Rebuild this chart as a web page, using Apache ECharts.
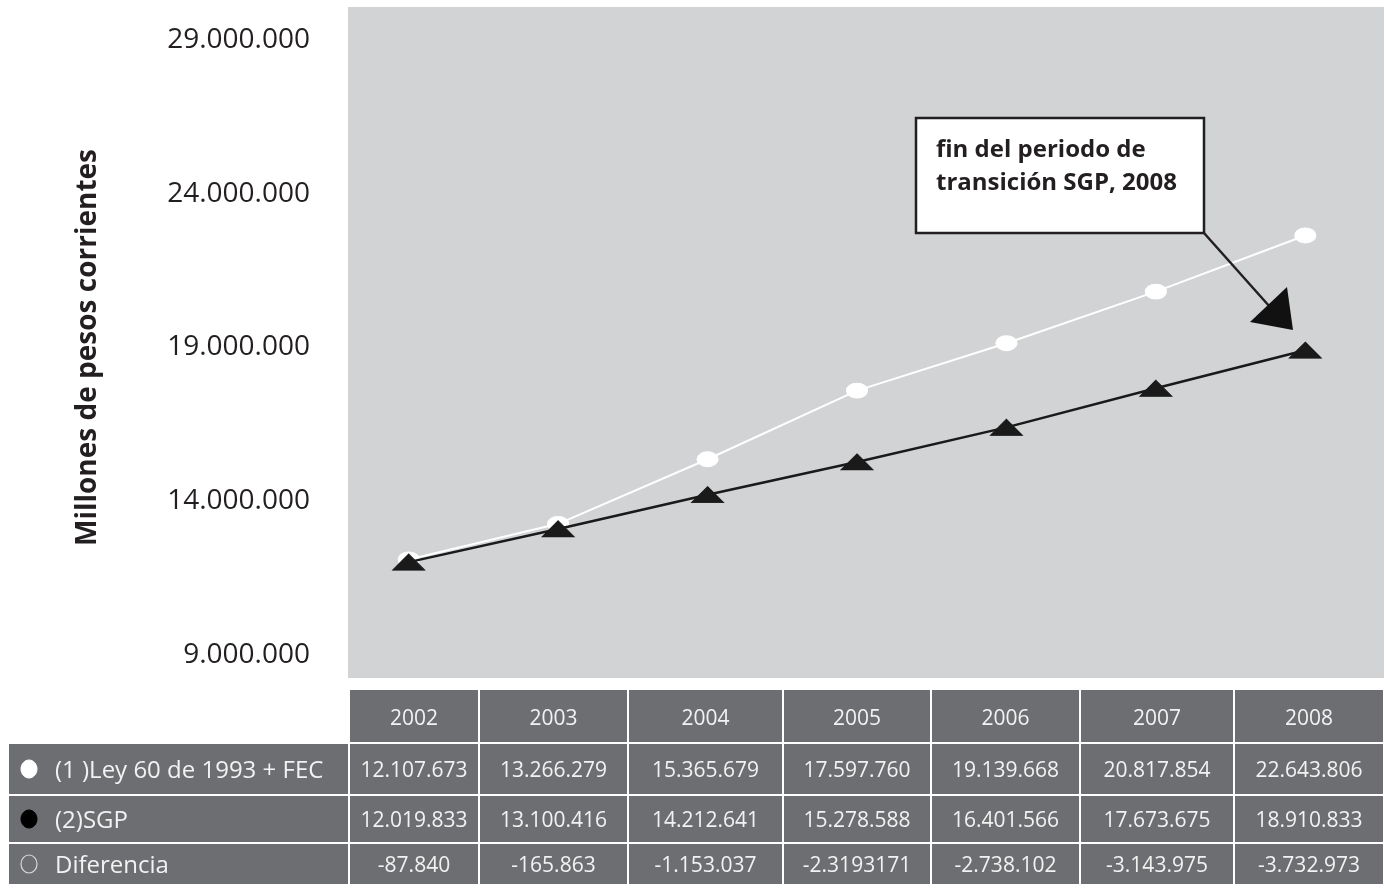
<!DOCTYPE html>
<html>
<head>
<meta charset="utf-8">
<script src="https://cdn.jsdelivr.net/npm/echarts@6/dist/echarts.min.js"></script>
<style>
html,body{margin:0;padding:0;background:#fff;}
#c{width:1384px;height:885px;}
</style>
</head>
<body>
<div id="c"></div>
<script>
// ---- data ----
const years = ['2002', '2003', '2004', '2005', '2006', '2007', '2008'];
const ley60 = [12107673, 13266279, 15365679, 17597760, 19139668, 20817854, 22643806];
const sgp = [12019833, 13100416, 14212641, 15278588, 16401566, 17673675, 18910833];
const diferenciaLabels = ['-87.840', '-165.863', '-1.153.037', '-2.3193171', '-2.738.102', '-3.143.975', '-3.732.973'];
const seriesNames = ['(1 )Ley 60 de 1993 + FEC', '(2)SGP', 'Diferencia'];
const yTicks = [9000000, 14000000, 19000000, 24000000, 29000000];
const yAxisName = 'Millones de pesos corrientes';
const annotationLines = ['fin del periodo de', 'transición SGP, 2008'];

function fmt(n) {
  const s = Math.abs(Math.round(n)).toString().replace(/\B(?=(\d{3})+(?!\d))/g, '.');
  return (n < 0 ? '-' : '') + s;
}

const FONT = '"Open Sans", "Noto Sans", sans-serif';
const CELL = '#6d6e71';
const TXT = '#f2f2f2';

// table layout
const colEdges = [349, 479, 628, 783, 931, 1080, 1234, 1384];
const rowEdges = [689, 743, 795, 843, 885];
const labelLeft = 8;

const graphics = [];
// plot background
graphics.push({ type: 'rect', z: -10, shape: { x: 348, y: 7, width: 1036, height: 671 }, style: { fill: '#d1d3d4' } });

// header row cells
for (let i = 0; i < years.length; i++) {
  const x0 = colEdges[i], x1 = colEdges[i + 1];
  graphics.push({ type: 'rect', shape: { x: x0, y: rowEdges[0], width: x1 - x0, height: rowEdges[1] - rowEdges[0] },
    style: { fill: CELL, stroke: '#ffffff', lineWidth: 2 } });
  graphics.push({ type: 'text', x: (x0 + x1) / 2, y: (rowEdges[0] + rowEdges[1]) / 2 + 3,
    style: { text: years[i], fill: TXT, font: '21px ' + FONT, textAlign: 'center', textVerticalAlign: 'middle' } });
}
// data rows
const rowsText = [ley60.map(fmt), sgp.map(fmt), diferenciaLabels];
for (let r = 0; r < 3; r++) {
  const y0 = rowEdges[r + 1], y1 = rowEdges[r + 2];
  const yc = (y0 + y1) / 2 + 2;
  graphics.push({ type: 'rect', shape: { x: labelLeft, y: y0, width: colEdges[0] - labelLeft, height: y1 - y0 },
    style: { fill: CELL, stroke: '#ffffff', lineWidth: 2 } });
  // legend marker
  const markerStyle = r === 0 ? { fill: '#ffffff', stroke: '#ffffff', lineWidth: 1 }
    : r === 1 ? { fill: '#000000', stroke: '#000000', lineWidth: 1 }
    : { fill: 'none', stroke: '#d8d8d8', lineWidth: 1.2 };
  graphics.push({ type: 'ellipse', shape: { cx: 29, cy: yc - 2, rx: 8, ry: 9 }, style: markerStyle });
  graphics.push({ type: 'text', x: 55, y: yc,
    style: { text: seriesNames[r], fill: TXT, font: '24px ' + FONT, textAlign: 'left', textVerticalAlign: 'middle' } });
  for (let i = 0; i < years.length; i++) {
    const x0 = colEdges[i], x1 = colEdges[i + 1];
    graphics.push({ type: 'rect', shape: { x: x0, y: y0, width: x1 - x0, height: y1 - y0 },
      style: { fill: CELL, stroke: '#ffffff', lineWidth: 2 } });
    graphics.push({ type: 'text', x: (x0 + x1) / 2, y: yc,
      style: { text: rowsText[r][i], fill: TXT, font: '21px ' + FONT, textAlign: 'center', textVerticalAlign: 'middle' } });
  }
}

// annotation box + arrow
graphics.push({ type: 'rect', z: 100, shape: { x: 916, y: 118, width: 288, height: 115 },
  style: { fill: '#ffffff', stroke: '#231f20', lineWidth: 2.5 } });
graphics.push({ type: 'text', z: 101, x: 936, y: 134,
  style: { text: annotationLines.join('\n'), fill: '#231f20', font: 'bold 24px ' + FONT, lineHeight: 33, textAlign: 'left', textVerticalAlign: 'top' } });
graphics.push({ type: 'line', z: 100, shape: { x1: 1204, y1: 233, x2: 1270, y2: 307 },
  style: { stroke: '#231f20', lineWidth: 2.5 } });
graphics.push({ type: 'polygon', z: 100, shape: { points: [[1293, 330], [1250, 322], [1287, 287]] },
  style: { fill: '#111111' } });

const chart = echarts.init(document.getElementById('c'), null, { renderer: 'canvas' });
chart.setOption({
  animation: false,
  backgroundColor: '#ffffff',
  grid: { left: 334, right: 4, top: 40, bottom: 885 - 655, containLabel: false },
  xAxis: {
    type: 'category', data: years, boundaryGap: true,
    axisLine: { show: false }, axisTick: { show: false }, axisLabel: { show: false }, splitLine: { show: false }
  },
  yAxis: {
    type: 'value', min: yTicks[0], max: yTicks[yTicks.length - 1], interval: yTicks[1] - yTicks[0],
    axisLine: { show: false }, axisTick: { show: false }, splitLine: { show: false },
    axisLabel: { formatter: v => fmt(v), color: '#231f20', fontSize: 28, fontFamily: FONT, margin: 24 },
    name: yAxisName, nameLocation: 'middle', nameGap: 232, nameRotate: 90,
    nameTextStyle: { color: '#231f20', fontSize: 28, fontWeight: 'bold', fontFamily: FONT }
  },
  graphic: { elements: graphics },
  series: [
    {
      name: seriesNames[0], type: 'line', data: ley60, z: 3,
      symbol: 'circle', symbolSize: [21, 15], showSymbol: true,
      lineStyle: { color: '#ffffff', width: 2 },
      itemStyle: { color: '#ffffff', borderColor: '#ffffff' }
    },
    {
      name: seriesNames[1], type: 'line', data: sgp, z: 4,
      symbol: 'triangle', symbolSize: [32, 16], showSymbol: true,
      lineStyle: { color: '#1a1a1a', width: 2.5 },
      itemStyle: { color: '#1a1a1a', borderColor: '#1a1a1a' }
    }
  ]
});
</script>
</body>
</html>
